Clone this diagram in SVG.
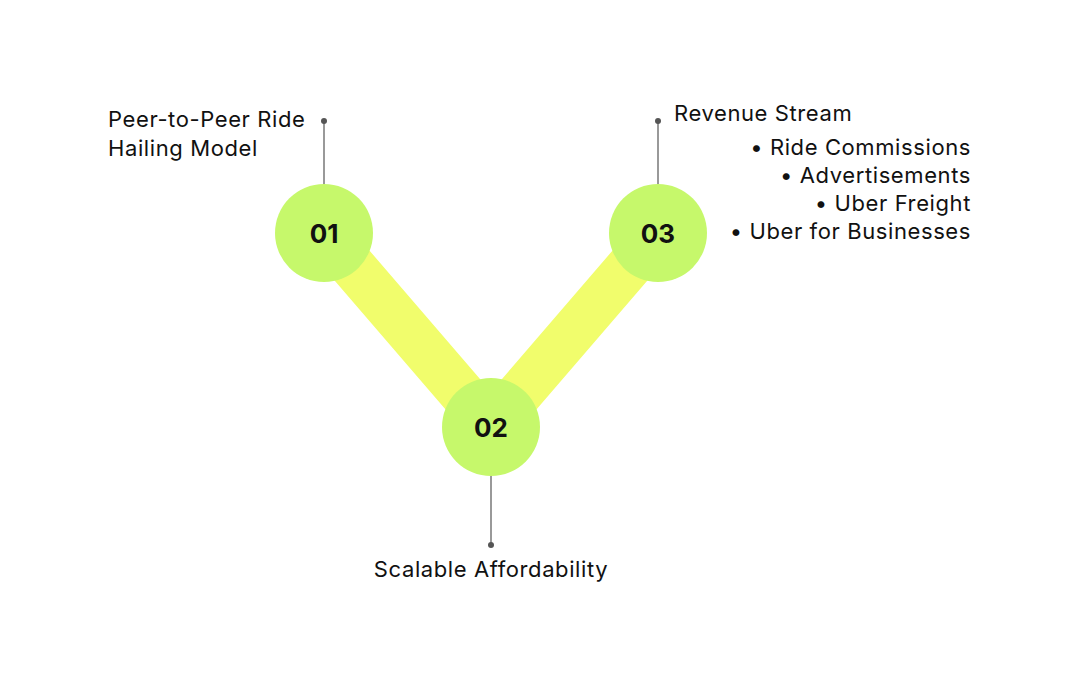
<svg xmlns="http://www.w3.org/2000/svg" width="1080" height="682" viewBox="0 0 1080 682">
<style>
text{font-family:Inter,"Liberation Sans",sans-serif;fill:#111}
.lbl{font-size:22px;letter-spacing:0.6px}
.num{font-size:26px;font-weight:700;text-anchor:middle}
.c{fill:#c6f86b}
.lead{stroke:#777;stroke-width:1.5}
.dot{fill:#555}
</style>
<rect width="1080" height="682" fill="#fff"/>
<g id="connectors">
<path d="M324 233 L491 427 L658 233" fill="none" stroke="#f1fd6c" stroke-width="46"/>
<line class="lead" x1="324" y1="121" x2="324" y2="184"/><circle class="dot" cx="324" cy="121" r="3"/>
<line class="lead" x1="658" y1="121" x2="658" y2="184"/><circle class="dot" cx="658" cy="121" r="3"/>
<line class="lead" x1="491" y1="476" x2="491" y2="545"/><circle class="dot" cx="491" cy="545" r="3"/>
</g>
<g id="n1"><circle class="c" cx="324" cy="233" r="49"/><text class="num" x="324" y="243">01</text>
<text class="lbl" x="108" y="127">Peer-to-Peer Ride</text><text class="lbl" x="108" y="156">Hailing Model</text></g>
<g id="n2"><circle class="c" cx="491" cy="427" r="49"/><text class="num" x="491" y="437">02</text>
<text class="lbl" x="491" y="577" text-anchor="middle">Scalable Affordability</text></g>
<g id="n3"><circle class="c" cx="658" cy="233" r="49"/><text class="num" x="658" y="243">03</text>
<text class="lbl" x="674" y="121">Revenue Stream</text>
<g text-anchor="end"><text class="lbl" x="971" y="155">•  Ride Commissions</text>
<text class="lbl" x="971" y="183">•  Advertisements</text>
<text class="lbl" x="971" y="211">•  Uber Freight</text>
<text class="lbl" x="971" y="239">•  Uber for Businesses</text></g></g>
</svg>
